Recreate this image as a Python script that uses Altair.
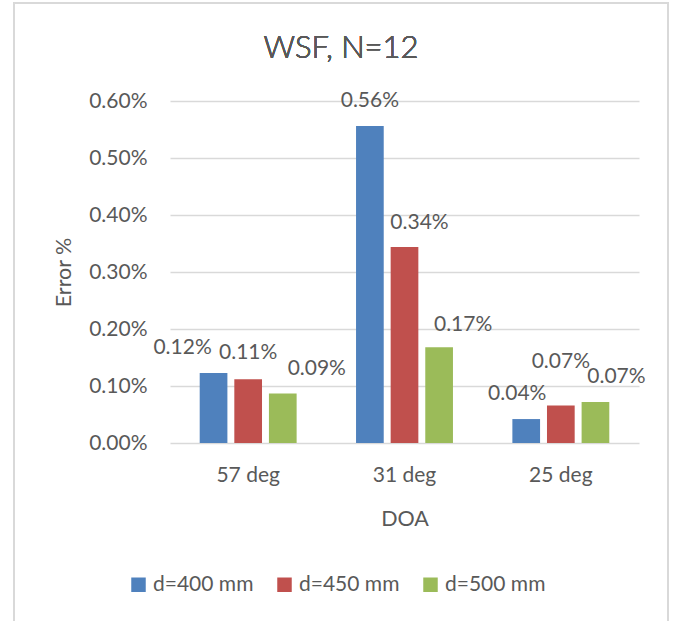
import altair as alt
import pandas as pd

# Direction of arrival groups and array spacings
categories = ["57 deg", "31 deg", "25 deg"]
series = ["d=400 mm", "d=450 mm", "d=500 mm"]

# Error in percent for each spacing, one value per DOA group
err_400 = [0.123, 0.556, 0.042]
err_450 = [0.112, 0.344, 0.066]
err_500 = [0.087, 0.168, 0.072]

colors = ["#4f81bd", "#c0504d", "#9bbb59"]
y_ticks = [0.0, 0.001, 0.002, 0.003, 0.004, 0.005, 0.006]
chart_title = "WSF, N=12"

rows = []
for s, vals in zip(series, [err_400, err_450, err_500]):
    for c, v in zip(categories, vals):
        rows.append({"DOA": c, "Spacing": s, "Error": v / 100.0})
df = pd.DataFrame(rows)

FONT = "Lato"
TXT = "#595959"
GRID = "#d9d9d9"
FS = 21

# hand-placed label nudges (dx, dy) so neighbouring labels don't collide
nudges = {
    ("57 deg", "d=400 mm"): (-31, -25),
    ("57 deg", "d=450 mm"): (0, -26),
    ("57 deg", "d=500 mm"): (34, -24),
    ("31 deg", "d=400 mm"): (0, -25),
    ("31 deg", "d=450 mm"): (15, -24),
    ("31 deg", "d=500 mm"): (24, -22),
    ("25 deg", "d=400 mm"): (-9, -25),
    ("25 deg", "d=450 mm"): (0, -43),
    ("25 deg", "d=500 mm"): (21, -25),
}

x_enc = alt.X(
    "DOA:N",
    sort=categories,
    scale=alt.Scale(paddingInner=0.38, paddingOuter=0.19),
    axis=alt.Axis(
        title="DOA",
        labelAngle=0,
        labelFont=FONT,
        labelFontSize=FS,
        labelColor=TXT,
        labelPadding=21,
        ticks=False,
        domain=False,
        titleFont=FONT,
        titleFontSize=21.5,
        titleFontWeight="normal",
        titleColor=TXT,
        titleY=82,
        titleBaseline="alphabetic",
    ),
)
xoff_enc = alt.XOffset(
    "Spacing:N", sort=series, scale=alt.Scale(paddingInner=0.2, paddingOuter=0)
)
y_enc = alt.Y(
    "Error:Q",
    scale=alt.Scale(domain=[0, 0.006], nice=False),
    axis=alt.Axis(
        title="Error %",
        values=y_ticks,
        format=".2%",
        labelFont=FONT,
        labelFontSize=FS,
        labelColor=TXT,
        labelPadding=23,
        ticks=False,
        domain=False,
        gridColor=GRID,
        gridWidth=1.5,
        titleFont=FONT,
        titleFontSize=21.5,
        titleFontWeight="normal",
        titleColor=TXT,
        titleAngle=-90,
        titleX=-106,
        titleY=171,
        titleAlign="center",
        titleBaseline="middle",
    ),
)

bars = alt.Chart(df).mark_bar().encode(
    x=x_enc,
    xOffset=xoff_enc,
    y=y_enc,
    color=alt.Color(
        "Spacing:N",
        sort=series,
        scale=alt.Scale(domain=series, range=colors),
        legend=alt.Legend(
            title=None,
            orient="none",
            direction="horizontal",
            legendX=-42,
            legendY=473,
            symbolType="square",
            symbolSize=210,
            symbolStrokeWidth=0,
            labelFont=FONT,
            labelFontSize=FS,
            labelColor=TXT,
            labelOffset=4,
            columnPadding=20,
        ),
    ),
)

label_layers = []
for (cat, ser), (ddx, ddy) in nudges.items():
    label_layers.append(
        alt.Chart(df)
        .transform_filter((alt.datum.DOA == cat) & (alt.datum.Spacing == ser))
        .mark_text(font=FONT, fontSize=FS, color=TXT, baseline="middle", dx=ddx, dy=ddy)
        .encode(x=x_enc, xOffset=xoff_enc, y=y_enc, text=alt.Text("Error:Q", format=".2%"))
    )

# light frame around the whole chart
frame = alt.Chart(df).mark_rect(fill=None, stroke=GRID, strokeWidth=1.5).encode(
    x=alt.value(-156), x2=alt.value(498), y=alt.value(-98), y2=alt.value(560)
)

# chart heading, centred on the full frame
heading = alt.Chart(df).mark_text(
    text=chart_title,
    font=FONT,
    fontSize=31,
    fontWeight=300,
    color=TXT,
    align="center",
    baseline="alphabetic",
).encode(x=alt.value(171), y=alt.value(-43))

chart = (
    alt.layer(frame, bars, *label_layers, heading)
    .properties(
        width=469,
        height=342,
        autosize=alt.AutoSizeParams(type="none"),
        padding={"left": 170, "top": 101, "right": 34, "bottom": 178},
    )
    .configure(background="white")
    .configure_view(stroke=None)
)

chart.save("out.html", embed_options={"renderer": "svg", "actions": False})
